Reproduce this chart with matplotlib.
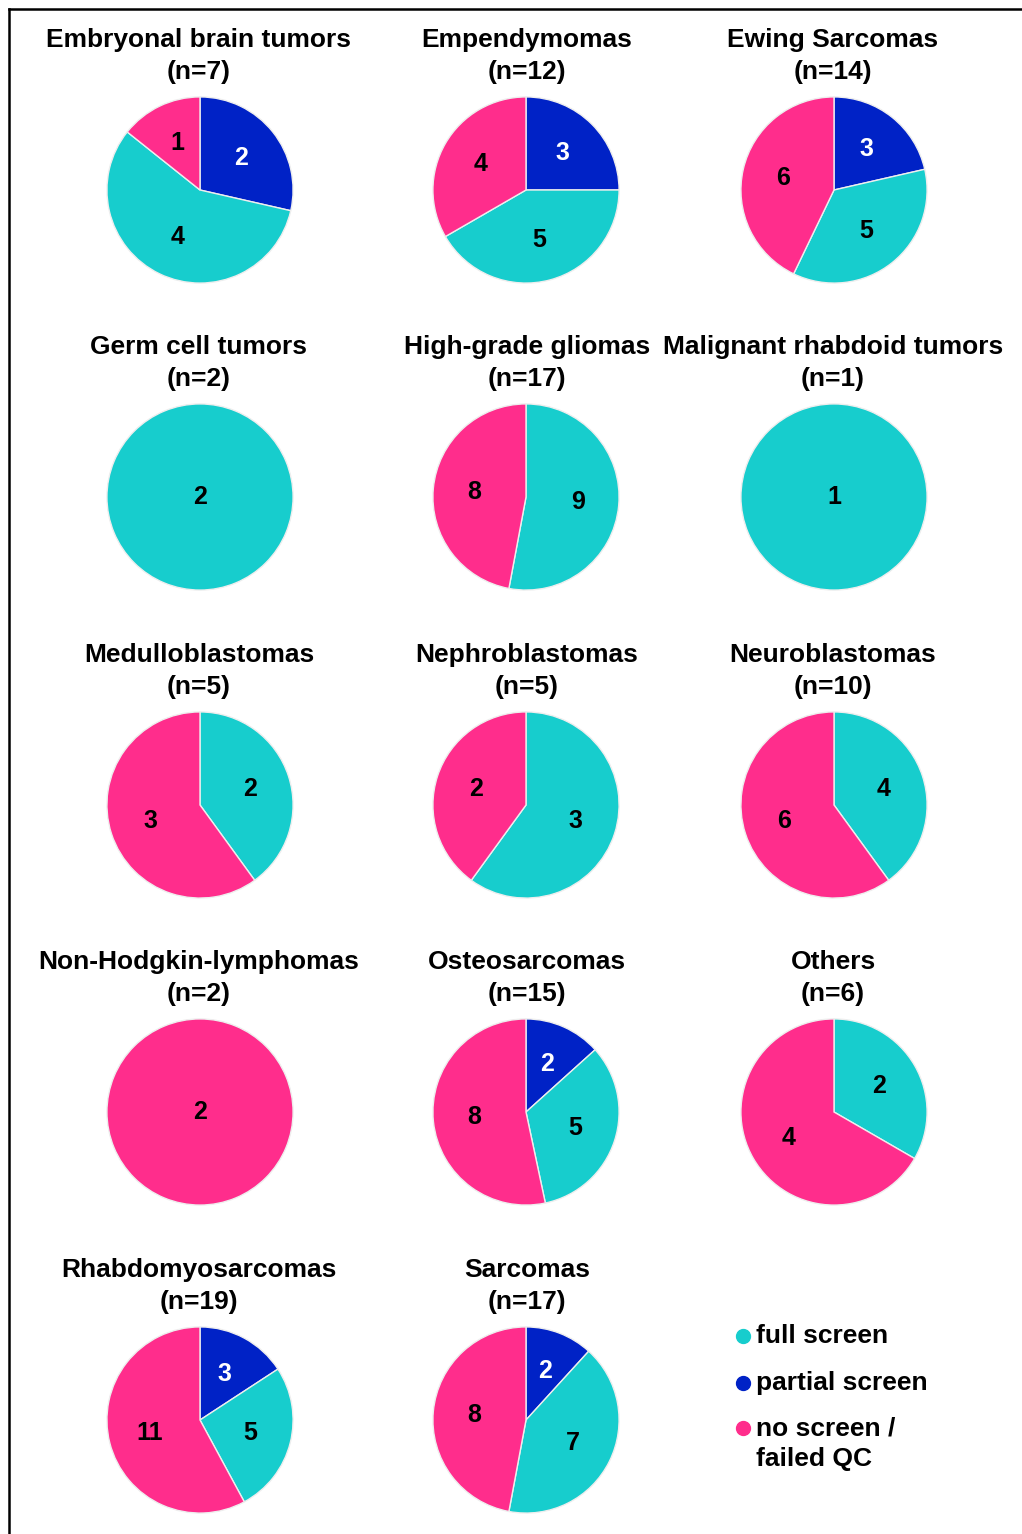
import numpy as np
import matplotlib
matplotlib.use("Agg")
import matplotlib.pyplot as plt
from matplotlib.lines import Line2D

plt.rcParams['font.family'] = ['Liberation Sans', 'DejaVu Sans']
plt.rcParams['font.weight'] = 'bold'

# Tumor entities with sample counts per screening outcome
entities = [
    "Embryonal brain tumors", "Empendymomas", "Ewing Sarcomas",
    "Germ cell tumors", "High-grade gliomas", "Malignant rhabdoid tumors",
    "Medulloblastomas", "Nephroblastomas", "Neuroblastomas",
    "Non-Hodgkin-lymphomas", "Osteosarcomas", "Others",
    "Rhabdomyosarcomas", "Sarcomas",
]
partial_screen = [2, 3, 3, 0, 0, 0, 0, 0, 0, 0, 2, 0, 3, 2]
full_screen    = [4, 5, 5, 2, 9, 1, 2, 3, 4, 0, 5, 2, 5, 7]
no_screen      = [1, 4, 6, 0, 8, 0, 3, 2, 6, 2, 8, 4, 11, 8]

outcome_labels = ["full screen", "partial screen", "no screen /\nfailed QC"]

C_FULL = "#17CDCD"
C_PARTIAL = "#0022C6"
C_NONE = "#FF2D8C"

W, H = 1022, 1534
fig = plt.figure(figsize=(W / 100, H / 100), dpi=100)

col_cx = [200, 526, 834]
col_tx = [199, 527, 833]
row_cy = [190, 497, 805, 1112, 1420]
R = 94
FS = 19


def px_rect(cx, cy, r):
    return [(cx - r) / W, 1 - (cy + r) / H, 2 * r / W, 2 * r / H]


for i, name in enumerate(entities):
    row, col = divmod(i, 3)
    cx, cy = col_cx[col], row_cy[row]
    ax = fig.add_axes(px_rect(cx, cy, R))
    vals = [partial_screen[i], full_screen[i], no_screen[i]]
    cols = [C_PARTIAL, C_FULL, C_NONE]
    txt_cols = ["white", "black", "black"]
    keep = [k for k, v in enumerate(vals) if v > 0]
    wedges, _ = ax.pie([vals[k] for k in keep], colors=[cols[k] for k in keep],
                       startangle=90, counterclock=False, radius=1,
                       wedgeprops=dict(edgecolor="#eeeeee", linewidth=1.0))
    for w, k in zip(wedges, keep):
        if len(keep) == 1:
            x, y = 0.0, 0.0
        else:
            mid = np.deg2rad((w.theta1 + w.theta2) / 2)
            x, y = 0.56 * np.cos(mid), 0.56 * np.sin(mid)
        ax.text(x, y, str(vals[k]), ha="center", va="center",
                fontsize=18, fontweight="bold", color=txt_cols[k])
    ax.set_xlim(-1.01, 1.01)
    ax.set_ylim(-1.01, 1.01)
    ax.set_aspect("equal")
    ax.axis("off")

    n = sum(vals)
    fig.text(col_tx[col] / W, 1 - (cy - 134) / H, f"{name}\n(n={n})",
             ha="center", va="center", fontsize=FS, fontweight="bold",
             linespacing=1.38)

# Legend in the empty last cell
leg_y = [1336, 1383, 1428]
leg_c = [C_FULL, C_PARTIAL, C_NONE]
for y, c, lab in zip(leg_y, leg_c, outcome_labels):
    fig.add_artist(Line2D([743 / W], [1 - y / H], marker="o", markersize=10,
                          color=c, linestyle="none", transform=fig.transFigure))
    if "\n" in lab:
        fig.text(756 / W, 1 - (y - 12) / H, lab, ha="left", va="top",
                 fontsize=FS, fontweight="bold", linespacing=1.38)
    else:
        fig.text(756 / W, 1 - y / H, lab, ha="left", va="center",
                 fontsize=FS, fontweight="bold")

# Frame lines along the top and left edges
fig.add_artist(Line2D([9 / W, 9 / W], [1 - 9 / H, 0], color="black", lw=1.8,
                      transform=fig.transFigure))
fig.add_artist(Line2D([9 / W, 1], [1 - 9 / H, 1 - 9 / H], color="black", lw=1.8,
                      transform=fig.transFigure))

fig.savefig("out.png", dpi=100, facecolor="white")
